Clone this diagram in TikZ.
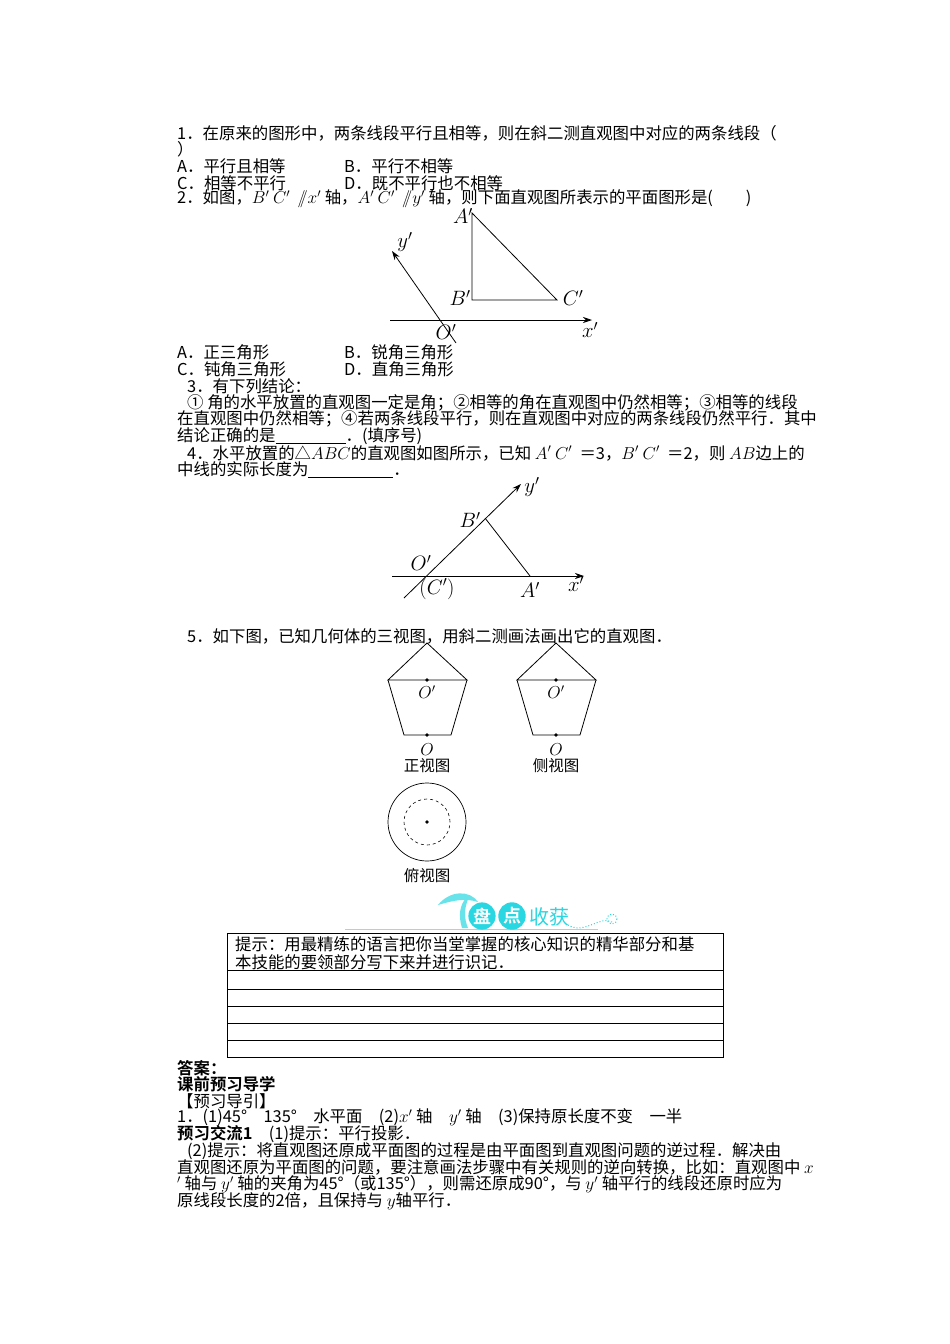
\documentclass[tikz,border=0pt]{standalone}
\usepackage{fontspec}
\setmainfont{Noto Sans CJK SC}
\newfontfamily\cjkb{Noto Sans CJK SC Bold}
\usetikzlibrary{arrows.meta}
\definecolor{cy}{RGB}{40,215,225}
\begin{document}
\begin{tikzpicture}[x=1pt,y=-1pt,
 t/.style={anchor=west,inner sep=0pt,font=\fontsize{16.4}{16}\selectfont},
 lb/.style={inner sep=0pt,font=\fontsize{20}{20}\selectfont},
 ax/.style={line width=0.8pt,-{Stealth[length=9pt,width=6pt]}},
 ln/.style={line width=0.8pt},
 dt/.style={circle,fill,inner sep=1.4pt}]
\useasboundingbox[fill=white] (0,0) rectangle (950,1344);
% Q1
\node[t] (q1) at (177,133) {1．在原来的图形中，两条线段平行且相等，则在斜二测直观图中对应的两条线段（};
\node[t] (q1b) at (177,149) {）};
\node[t] (a1) at (177,166) {A．平行且相等};
\node[t] (b1) at (344,166) {B．平行不相等};
\node[t] (c1) at (177,183) {C．相等不平行};
\node[t] (d1) at (344,183) {D．既不平行也不相等};
\node[t] (q2) at (177,199) {2．如图，$B'$\ $C'$\ \ $/\!\!/x'$\ 轴，$A'$\ $C'$\ \ $/\!\!/y'$\ 轴，则下面直观图所表示的平面图形是(\qquad)};
% Fig 1
\coordinate (A1) at (472,213);
\coordinate (B1) at (472,300);
\coordinate (C1) at (557,300);
\coordinate (xs1) at (390,320);
\coordinate (xe1) at (592,320);
\coordinate (ys1) at (456,343);
\coordinate (ye1) at (392,251);
\draw[ln] (A1) -- (B1) -- (C1) -- cycle;
\draw[ax] (xs1) -- (xe1);
\draw[ax] (ys1) -- (ye1);
\node[lb] (lA1) at (463,216) {$A'$};
\node[lb] (lB1) at (460,298) {$B'$};
\node[lb] (lC1) at (573,298) {$C'$};
\node[lb] (lO1) at (446,332) {$O'$};
\node[lb] (lx1) at (590,330) {$x'$};
\node[lb] (ly1) at (405,242) {$y'$};
\node[t] (a2) at (177,352) {A．正三角形};
\node[t] (b2) at (344,352) {B．锐角三角形};
\node[t] (c2) at (177,369) {C．钝角三角形};
\node[t] (d2) at (344,369) {D．直角三角形};
% Q3
\node[t] (q3) at (187,386) {3．有下列结论：};
\node[t] (q3a) at (187,403) {① 角的水平放置的直观图一定是角；②相等的角在直观图中仍然相等；③相等的线段};
\node[t] (q3b) at (177,419) {在直观图中仍然相等；④若两条线段平行，则在直观图中对应的两条线段仍然平行．其中};
\node[t] (q3c) at (177,436) {结论正确的是\underline{\hspace{70pt}}．(填序号)};
% Q4
\node[t] (q4) at (187,453) {4．水平放置的△$ABC$的直观图如图所示，已知 $A'$\ $C'$\ \ ＝3，$B'$\ $C'$\ \ ＝2，则 $AB$边上的};
\node[t] (q4b) at (177,470) {中线的实际长度为\underline{\hspace{85pt}}．};
% Fig 2
\coordinate (B2) at (485,518);
\coordinate (A2) at (530,576);
\coordinate (xs2) at (392,576);
\coordinate (xe2) at (584,576);
\coordinate (ys2) at (404,598);
\coordinate (ye2) at (521,484);
\draw[ax] (xs2) -- (xe2);
\draw[ax] (ys2) -- (ye2);
\draw[ln] (B2) -- (A2);
\node[lb] (lB2) at (470,520) {$B'$};
\node[lb] (lA2) at (530,590) {$A'$};
\node[lb] (lO2) at (421,563) {$O'$};
\node[lb] (lC2) at (437,589) {$(C')$};
\node[lb] (lx2) at (576,584) {$x'$};
\node[lb] (ly2) at (532,487) {$y'$};
% Q5
\node[t] (q5) at (187,636) {5．如下图，已知几何体的三视图，用斜二测画法画出它的直观图．};
\foreach \dx/\nm/\lab in {0/f/正视图,129/s/侧视图}{
  \begin{scope}[xshift=\dx]
  \draw[ln] (427,643) -- (388,680) -- (467,680) -- cycle;
  \draw[ln] (388,680) -- (404,735) -- (451,735) -- (467,680);
  \node[dt] (\nm top) at (427,680) {};
  \node[dt] (\nm bot) at (427,735) {};
  \node[lb,font=\fontsize{17}{17}\selectfont] (\nm O1) at (427,692) {$O'$};
  \node[lb,font=\fontsize{17}{17}\selectfont] (\nm O) at (427,750) {$O$};
  \node[inner sep=0,font=\fontsize{15.5}{15}\selectfont] (\nm lab) at (427,766) {\lab};
  \end{scope}}
% top view
\node[draw,circle,minimum size=78pt,line width=0.7pt] (outer) at (427,822) {};
\node[draw,circle,dashed,minimum size=46pt,line width=0.6pt] (inner) at (427,822) {};
\node[dt] (ctr) at (427,822) {};
\node[inner sep=0,font=\fontsize{15.5}{15}\selectfont] (tlab) at (427,876) {俯视图};
% banner
\draw[cy!60,line width=0.8pt] (345,929) -- (598,929);
\draw[cy,dotted,line width=1pt] (568,925) .. controls (585,935) and (600,915) .. (612,922);
\draw[cy,dotted,line width=1pt] (612,919) circle (5);
\fill[cy!70] (438,905) .. controls (450,890) and (470,890) .. (478,902) .. controls (465,898) and (455,900) .. (438,905);
\fill[cy!70] (462,928) .. controls (458,915) and (460,905) .. (466,898) -- (468,899) .. controls (464,910) and (464,918) .. (468,928) -- cycle;
\node[circle,fill=cy,inner sep=1pt,minimum size=26pt,text=white,font=\cjkb\fontsize{18}{18}\selectfont] (pan) at (482,916) {盘};
\node[circle,fill=cy,inner sep=1pt,minimum size=26pt,text=white,font=\cjkb\fontsize{18}{18}\selectfont] (dian) at (512,916) {点};
\node[inner sep=0,text=cy,font=\fontsize{20}{20}\selectfont] (shou) at (549,917) {收获};
% box
\draw[line width=0.7pt] (227,933) rectangle (723,1057);
\foreach \yy in {970,989,1006,1023,1040}{\draw[line width=0.6pt] (227,\yy) -- (723,\yy);}
\node[t] (hint1) at (235,944) {提示：用最精练的语言把你当堂掌握的核心知识的精华部分和基};
\node[t] (hint2) at (235,962) {本技能的要领部分写下来并进行识记．};
% answers
\node[t,font=\cjkb\fontsize{16.4}{16}\selectfont] (ans) at (177,1068) {答案：};
\node[t,font=\cjkb\fontsize{16.4}{16}\selectfont] (kq) at (177,1084) {课前预习导学};
\node[t] (yy) at (177,1101) {【预习导引】};
\node[t] (r1) at (177,1117) {1．(1)45°\quad 135°\quad 水平面\quad (2)$x'$\ 轴\quad $y'$\ 轴\quad (3)保持原长度不变\quad 一半};
\node[t] (r2) at (177,1134) {{\cjkb 预习交流1}\quad (1)提示：平行投影．};
\node[t] (r3) at (187,1151) {(2)提示：将直观图还原成平面图的过程是由平面图到直观图问题的逆过程．解决由};
\node[t] (r4) at (177,1167) {直观图还原为平面图的问题，要注意画法步骤中有关规则的逆向转换，比如：直观图中 $x$};
\node[t] (r5) at (177,1184) {$'$\ 轴与 $y'$\ 轴的夹角为45°（或135°），则需还原成90°，与 $y'$\ 轴平行的线段还原时应为};
\node[t] (r6) at (177,1201) {原线段长度的2倍，且保持与 $y$轴平行．};
\end{tikzpicture}
\end{document}
